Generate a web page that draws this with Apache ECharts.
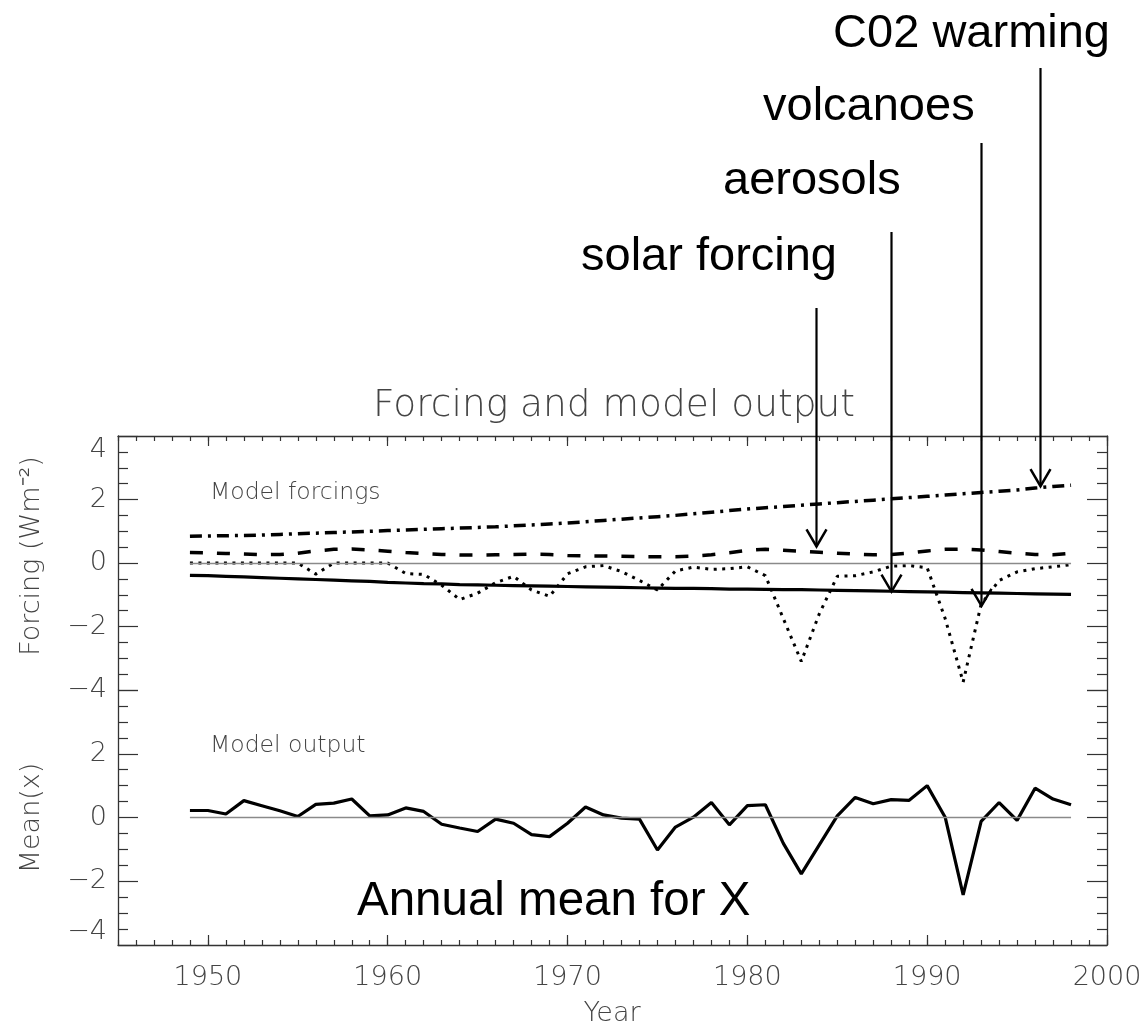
<!DOCTYPE html>
<html>
<head>
<meta charset="utf-8">
<script src="https://cdn.jsdelivr.net/npm/echarts@6/dist/echarts.min.js"></script>
<style>html,body{margin:0;padding:0;background:#fff}#c{width:1148px;height:1028px}</style>
</head>
<body>
<div id="c"></div>
<script>
// ---------------- data ----------------
const years = [1949,1950,1951,1952,1953,1954,1955,1956,1957,1958,
               1959,1960,1961,1962,1963,1964,1965,1966,1967,1968,
               1969,1970,1971,1972,1973,1974,1975,1976,1977,1978,
               1979,1980,1981,1982,1983,1984,1985,1986,1987,1988,
               1989,1990,1991,1992,1993,1994,1995,1996,1997,1998];

// CO2 forcing (dash-dot)
const co2Forcing = [0.84,0.85,0.86,0.87,0.88,0.90,0.92,0.94,0.96,0.98,
                    1.00,1.02,1.04,1.06,1.08,1.10,1.12,1.14,1.17,1.20,
                    1.23,1.26,1.30,1.34,1.38,1.42,1.46,1.50,1.55,1.60,
                    1.65,1.70,1.74,1.78,1.82,1.86,1.90,1.94,1.98,2.02,
                    2.06,2.10,2.14,2.18,2.22,2.26,2.30,2.36,2.41,2.45];

// solar forcing (dashed)
const solarForcing = [0.33,0.32,0.30,0.28,0.26,0.27,0.31,0.38,0.43,0.44,
                      0.41,0.37,0.33,0.30,0.27,0.25,0.25,0.26,0.27,0.28,
                      0.27,0.24,0.22,0.22,0.21,0.20,0.20,0.20,0.22,0.26,
                      0.32,0.40,0.43,0.40,0.37,0.34,0.31,0.28,0.26,0.27,
                      0.31,0.38,0.43,0.44,0.41,0.36,0.31,0.27,0.26,0.31];

// volcanic forcing (dotted)
const volcanicForcing = [0,0,0,0,0,0,0,-0.35,0,0,
                         0,0,-0.33,-0.36,-0.70,-1.15,-0.95,-0.62,-0.42,-0.85,
                         -1.05,-0.34,-0.12,-0.08,-0.27,-0.55,-0.85,-0.25,-0.13,-0.20,
                         -0.18,-0.12,-0.40,-1.75,-3.10,-1.60,-0.42,-0.40,-0.28,-0.10,
                         -0.08,-0.15,-1.75,-3.75,-1.30,-0.55,-0.28,-0.18,-0.12,-0.05];

// aerosol forcing (solid)
const aerosolForcing = [-0.39,-0.40,-0.42,-0.44,-0.46,-0.48,-0.50,-0.52,-0.54,-0.56,
                        -0.58,-0.61,-0.63,-0.65,-0.66,-0.68,-0.69,-0.70,-0.71,-0.72,
                        -0.73,-0.74,-0.75,-0.76,-0.77,-0.78,-0.79,-0.80,-0.80,-0.81,
                        -0.82,-0.82,-0.83,-0.84,-0.84,-0.85,-0.86,-0.87,-0.88,-0.89,
                        -0.90,-0.91,-0.92,-0.93,-0.94,-0.95,-0.96,-0.97,-0.98,-0.99];

// model output, annual mean of X
const modelOutput = [0.22,0.22,0.11,0.53,0.37,0.21,0.03,0.41,0.45,0.58,
                     0.05,0.08,0.30,0.19,-0.21,-0.33,-0.44,-0.05,-0.18,-0.54,
                     -0.60,-0.18,0.33,0.08,-0.02,-0.05,-1.02,-0.30,0.01,0.47,
                     -0.23,0.37,0.40,-0.81,-1.77,-0.86,0.05,0.63,0.43,0.56,
                     0.54,1.00,0.01,-2.43,-0.12,0.47,-0.09,0.92,0.58,0.40];

const decadeTicks = [1950,1960,1970,1980,1990,2000];

// arrow anchors (data coords of arrow tips)
const arrowAnchors = [
  {name:'C02 warming',   year:1996.3, value:2.42},
  {name:'volcanoes',     year:1993.0, value:-1.35},
  {name:'aerosols',      year:1988.0, value:-0.90},
  {name:'solar forcing', year:1983.8, value:0.52}
];

// ---------------- styles ----------------
const AX = '#333';
const LBL = '#444';
const FONT = 'DejaVu Sans';
const ANN_FONT = 'Liberation Sans';
const axLine = {color: AX, width: 1.3};
const tickLine = {color: AX, width: 1.2};

function pairs(vals){ return years.map((y,i)=>[y, vals[i]]); }
const minus = v => (v < 0 ? '\u2212' + Math.abs(v) : String(v));

function minorX(gridIndex, position){
  return {type:'value', gridIndex, position, min:1945, max:2000, interval:1,
    axisLine:{show:true, onZero:false, lineStyle:axLine},
    axisTick:{show:true, inside:true, length:5, lineStyle:tickLine},
    axisLabel:{show:false}, splitLine:{show:false}};
}
function majorX(gridIndex, position, withLabels){
  return {type:'value', gridIndex, position, min:1945, max:2000, interval:1,
    axisLine:{show:false, onZero:false},
    axisTick:{show:true, inside:true, length:10, customValues:decadeTicks, lineStyle:tickLine},
    axisLabel: withLabels ? {show:true, customValues:decadeTicks, fontSize:27, fontFamily:FONT,
        fontWeight:300, color:LBL, margin:19, formatter: v => String(v)} : {show:false},
    splitLine:{show:false}};
}
function yAx(gridIndex, position, withLabels, hideTop, shiftMin, shiftMax){
  const lab = withLabels ? {show:true, fontSize:27, fontFamily:FONT, fontWeight:300, color:LBL, margin:11,
      formatter: v => (hideTop && v === 4) ? '' : minus(v)} : {show:false};
  if (withLabels && shiftMax) lab.verticalAlignMaxLabel = 'top';
  if (withLabels && shiftMin) lab.verticalAlignMinLabel = 'bottom';
  return {type:'value', gridIndex, position, min:-4, max:4, interval:2,
    axisLine:{show:true, onZero:false, lineStyle:axLine},
    axisTick:{show:true, inside:true, length:20, lineStyle:tickLine},
    minorTick:{show:true, splitNumber:4, length:10, lineStyle:tickLine},
    splitLine:{show:false}, minorSplitLine:{show:false},
    axisLabel: lab};
}

const zeroMark = {silent:true, symbol:['none','none'], label:{show:false},
  lineStyle:{color:'#8a8a8a', width:1.3, type:'solid'},
  data:[[{coord:[years[0],0]},{coord:[years[years.length-1],0]}]]};

const option = {
  animation:false,
  backgroundColor:'#fff',
  grid:[
    {left:118, top:436, width:989, height:254, containLabel:false, outerBoundsMode:'none'},
    {left:118, top:690, width:989, height:255, containLabel:false, outerBoundsMode:'none'}
  ],
  xAxis:[
    minorX(0,'top'), majorX(0,'top',false),
    minorX(1,'bottom'), majorX(1,'bottom',true)
  ],
  yAxis:[
    yAx(0,'left',true,false,false,true), yAx(0,'right',false),
    yAx(1,'left',true,true,true,false), yAx(1,'right',false)
  ],
  series:[
    {name:'zero1', type:'line', xAxisIndex:0, yAxisIndex:0, data:[], markLine:zeroMark, z:1},
    {name:'CO2', type:'line', xAxisIndex:0, yAxisIndex:0, data:pairs(co2Forcing), symbol:'none',
      lineStyle:{color:'#000', width:3.5, type:[12,6,3,6], cap:'butt'}, z:3},
    {name:'solar', type:'line', xAxisIndex:0, yAxisIndex:0, data:pairs(solarForcing), symbol:'none',
      lineStyle:{color:'#000', width:3.5, type:[13,14], cap:'butt'}, z:3},
    {name:'volcanic', type:'line', xAxisIndex:0, yAxisIndex:0, data:pairs(volcanicForcing), symbol:'none',
      lineStyle:{color:'#000', width:3, type:[3,5.5], cap:'butt'}, z:3},
    {name:'aerosol', type:'line', xAxisIndex:0, yAxisIndex:0, data:pairs(aerosolForcing), symbol:'none',
      lineStyle:{color:'#000', width:3.2, type:'solid'}, z:3},
    {name:'zero2', type:'line', xAxisIndex:2, yAxisIndex:2, data:[], markLine:zeroMark, z:1},
    {name:'output', type:'line', xAxisIndex:2, yAxisIndex:2, data:pairs(modelOutput), symbol:'none',
      lineStyle:{color:'#000', width:3.2, type:'solid'}, z:3}
  ]
};

const chart = echarts.init(document.getElementById('c'), null, {renderer:'canvas'});
chart.setOption(option);

function txt(text, x, y, size, family, fill, align, extra, weight){
  return Object.assign({type:'text', x, y, silent:true,
    style:{text, fontSize:size, fontFamily:family, fontWeight:weight || 'normal', fill, align, verticalAlign:'middle'}}, extra || {});
}

const graphics = [
  txt('Forcing and model output', 614, 406, 37.5, FONT, LBL, 'center', null, 300),
  txt('Year', 612, 1014, 27, FONT, LBL, 'center', null, 300),
  txt('Forcing (Wm\u207B\u00B2)', 32, 556, 27, FONT, LBL, 'center', {rotation:Math.PI/2}, 300),
  txt('Mean(x)', 32, 818, 27, FONT, LBL, 'center', {rotation:Math.PI/2}, 300),
  txt('Model forcings', 210, 493, 23.5, FONT, LBL, 'left', null, 300),
  txt('Model output', 210, 746, 23.5, FONT, LBL, 'left', null, 300),
  txt('Annual mean for X', 357, 902, 47.5, ANN_FONT, '#000', 'left'),
  txt('C02 warming', 1110, 34, 47, ANN_FONT, '#000', 'right'),
  txt('volcanoes', 763, 107, 47, ANN_FONT, '#000', 'left'),
  txt('aerosols', 723, 181, 47, ANN_FONT, '#000', 'left'),
  txt('solar forcing', 581, 257, 47, ANN_FONT, '#000', 'left')
];

const lineTops = [68, 143, 232, 308];
arrowAnchors.forEach((a, i) => {
  const p = chart.convertToPixel({xAxisIndex:0, yAxisIndex:0}, [a.year, a.value]);
  const x = Math.round(p[0]) + 0.5, y = p[1];
  graphics.push({type:'line', silent:true, shape:{x1:x, y1:lineTops[i], x2:x, y2:y},
    style:{stroke:'#000', lineWidth:2.2}, z:10});
  graphics.push({type:'polyline', silent:true,
    shape:{points:[[x-10, y-17],[x, y],[x+10, y-17]]},
    style:{stroke:'#000', lineWidth:2.5, fill:null}, z:10});
});

chart.setOption({graphic:{elements:graphics}});
</script>
</body>
</html>
